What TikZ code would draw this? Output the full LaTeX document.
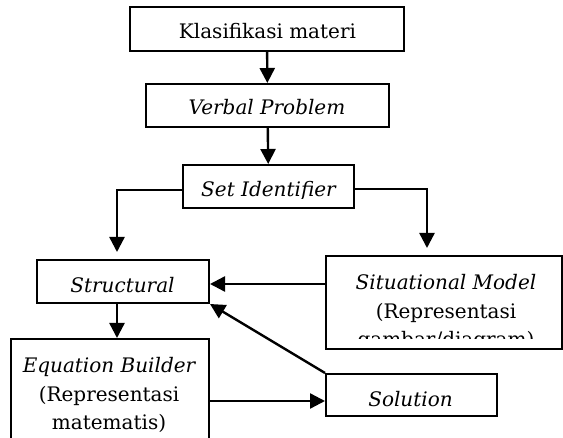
\documentclass[tikz,border=0pt]{standalone}
\usepackage{fontspec}
\setmainfont{DejaVu Serif}
\usetikzlibrary{arrows.meta}
\begin{document}
\begin{tikzpicture}[x=1pt,y=-1pt,
    box/.style={draw,line width=2pt,inner sep=0pt},
    txt/.style={anchor=base,inner sep=0pt,align=center,font=\fontsize{20}{28.5}\selectfont},
    arr/.style={line width=2.4pt,-{Triangle[length=15pt,width=15pt]}}]
    \useasboundingbox (0,0) rectangle (563,438);
    % kotak
    \node [box,minimum width=274pt,minimum height=44pt] (klas) at (267,29) {};
    \node [box,minimum width=243pt,minimum height=43pt] (verbal) at (267.5,105.5) {};
    \node [box,minimum width=171pt,minimum height=43pt] (setid) at (268.5,186.5) {};
    \node [box,minimum width=172pt,minimum height=43pt] (struct) at (123,281.5) {};
    \node [box,minimum width=236pt,minimum height=93pt] (situ) at (444,302.5) {};
    \node [box,minimum width=198pt,minimum height=121pt] (eq) at (110,399.5) {};
    \node [box,minimum width=171pt,minimum height=42pt] (sol) at (411.5,395) {};
    % teks (terpotong di bawah)
    \begin{scope}
        \clip (130,7) rectangle (404,41);
        \node [txt] (klas-t) at (267.5,39) {Klasifikasi materi};
    \end{scope}
    \begin{scope}
        \clip (146,84) rectangle (389,117);
        \node [txt] (verbal-t) at (267,115) {\itshape Verbal Problem};
    \end{scope}
    \begin{scope}
        \clip (183,165) rectangle (354,199);
        \node [txt] (setid-t) at (268.5,197) {\itshape Set Identifier};
    \end{scope}
    \begin{scope}
        \clip (37,260) rectangle (209,294);
        \node [txt] (struct-t) at (122.5,293) {\itshape Structural};
    \end{scope}
    \begin{scope}
        \clip (326,256) rectangle (562,339);
        \node [txt] (situ-t) at (446,347) {\itshape Situational Model\\(Representasi\\gambar/diagram)};
    \end{scope}
    \begin{scope}
        \clip (11,339) rectangle (209,433);
        \node [txt] (eq-t) at (109,430) {\itshape Equation Builder\\(Representasi\\matematis)};
    \end{scope}
    \begin{scope}
        \clip (326,374) rectangle (497,407);
        \node [txt] (sol-t) at (410.5,407) {\itshape Solution};
    \end{scope}
    % panah
    \draw [arr] (klas) -- (verbal);
    \draw [arr] (verbal) -- (setid);
    \draw [arr,shorten >=7pt] ([yshift=-3.5pt]setid.west) -| ([xshift=-6pt]struct.north);
    \draw [arr,shorten >=7pt] ([yshift=-2.5pt]setid.east) -| ([xshift=-17pt]situ.north);
    \draw [arr] ([yshift=-2.5pt]struct.east -| situ.west) -- ([yshift=-2.5pt]struct.east);
    \draw [arr] ([xshift=-6pt]struct.south) -- ([xshift=-6pt]struct.south |- eq.north);
    \draw [arr] ([yshift=-6pt]sol.west -| eq.east) -- ([yshift=-6pt]sol.west);
    \draw [arr] (sol.north west) -- (struct.south east);
\end{tikzpicture}
\end{document}
